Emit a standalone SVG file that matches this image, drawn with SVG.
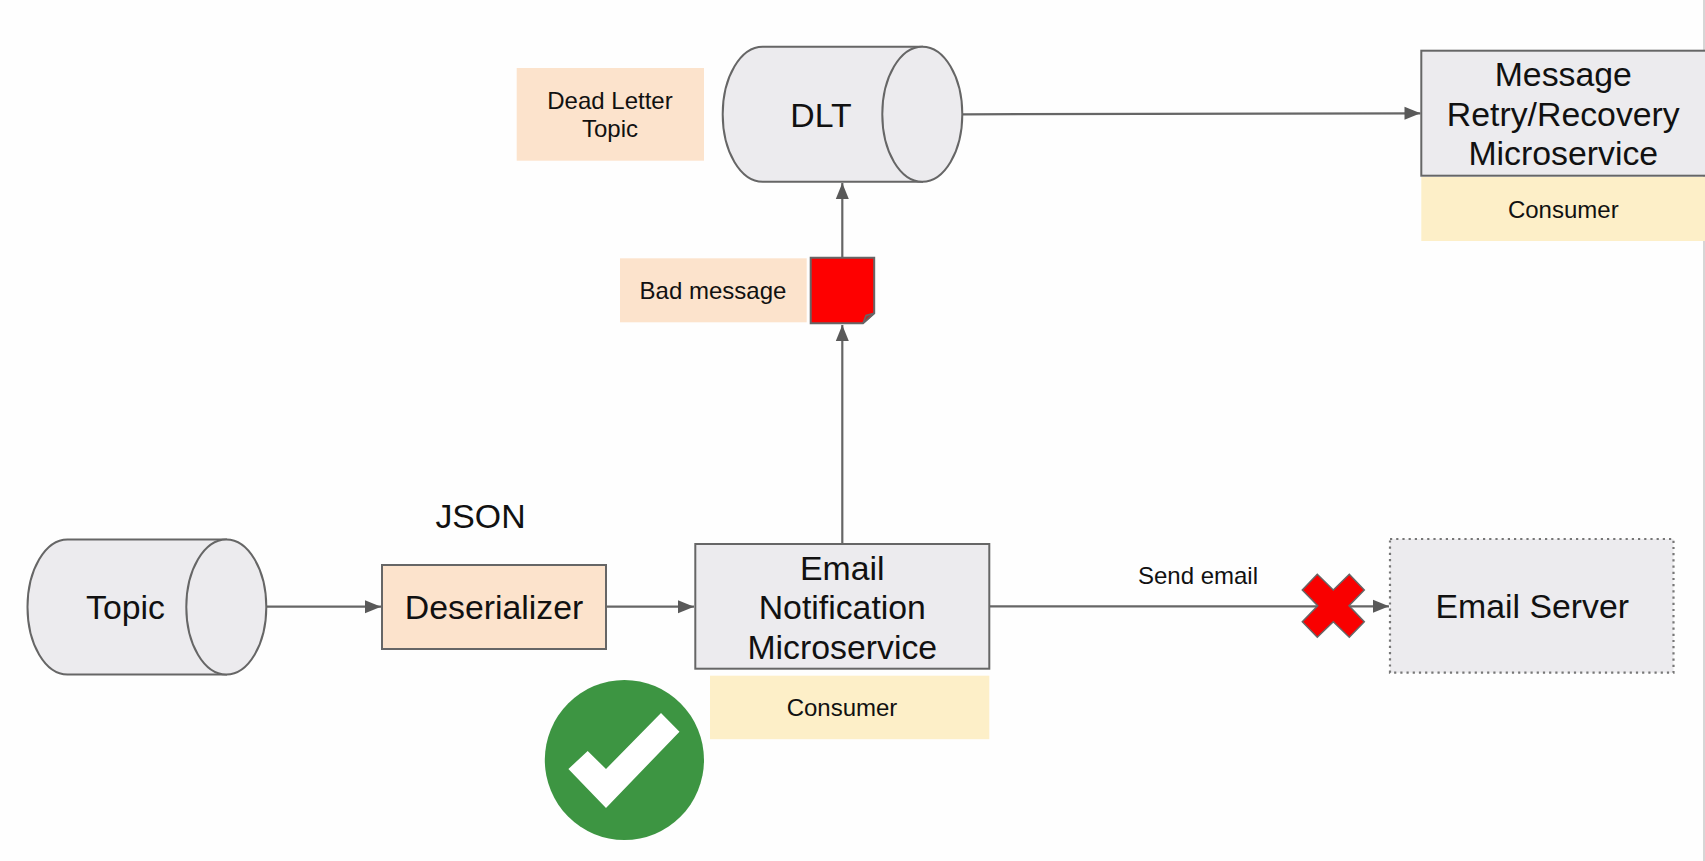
<svg xmlns="http://www.w3.org/2000/svg" width="1705" height="861" viewBox="0 0 1705 861">
  <style>
    text { font-family: "Liberation Sans", Arial, sans-serif; fill: #111; text-anchor: middle; }
    .lg { font-size: 33.8px; }
    .sm { font-size: 24px; }
    .shape { fill: #ecebee; stroke: #666; stroke-width: 2; }
    .conn { fill: none; stroke: #666; stroke-width: 2.2; marker-end: url(#arrow); }
    .peach { fill: #fce3cc; }
    .yellow { fill: #fdefc8; }
  </style>
  <defs>
    <marker id="arrow" markerUnits="userSpaceOnUse" markerWidth="17" markerHeight="14" refX="16" refY="7" orient="auto">
      <path d="M0 0.5 L16 7 L0 13.5 Z" fill="#595959"/>
    </marker>
  </defs>
  <rect width="1705" height="861" fill="#fefefe"/>
  <path d="M1704 0V861" stroke="#c9c9c9" stroke-width="1.5" fill="none"/>

  <g id="connectors">
    <path class="conn" d="M266 606.7H381"/>
    <path class="conn" d="M606 606.7H694"/>
    <path class="conn" d="M842.3 544V325"/>
    <path class="conn" d="M842.3 257V183"/>
    <path class="conn" d="M963 114.3L1420.5 113.3"/>
    <path class="conn" d="M989.5 606.3H1389"/>
  </g>

  <g id="topic">
    <path class="shape" d="M67.5 539.5H226V674.5H67.5A40 67.5 0 0 1 67.5 539.5Z"/>
    <ellipse class="shape" cx="226.3" cy="607" rx="40" ry="67.5"/>
    <text class="lg" x="125.5" y="618.5">Topic</text>
  </g>

  <g id="json-label">
    <text class="lg" x="480.5" y="527.5">JSON</text>
  </g>

  <g id="deserializer">
    <rect x="382" y="565" width="224" height="84" fill="#fce3cc" stroke="#666" stroke-width="2"/>
    <text class="lg" x="494" y="618.5">Deserializer</text>
  </g>

  <g id="email-notification">
    <rect class="shape" x="695.3" y="544" width="294" height="124.7"/>
    <text class="lg" x="842.3" y="579.5">Email</text>
    <text class="lg" x="842.3" y="619">Notification</text>
    <text class="lg" x="842.3" y="658.5">Microservice</text>
  </g>

  <g id="consumer-1">
    <rect class="yellow" x="710" y="675.7" width="279.3" height="63.5"/>
    <text class="sm" x="842" y="716">Consumer</text>
  </g>

  <g id="check">
    <ellipse cx="624.4" cy="760" rx="79.6" ry="80" fill="#3d9542"/>
    <polygon points="568.4,769 587.7,751 606,769 661,713 679.5,731.7 606,808" fill="#fff"/>
  </g>

  <g id="send-email-label">
    <text class="sm" x="1198" y="584">Send email</text>
  </g>

  <g id="cross">
    <polygon points="1317.3,574.3 1302.3,590 1317.7,605.7 1302.3,621.7 1317.3,637.3 1333.3,621.7 1349.3,637.3 1364.3,621.7 1349,605.7 1364.3,590 1349.3,574.3 1333.3,590" fill="#f90000" stroke="#666" stroke-width="1.5"/>
  </g>

  <g id="email-server">
    <rect x="1390" y="539" width="283.5" height="133.7" fill="#ecebee" stroke="#777" stroke-width="2.2" stroke-dasharray="2.2 4"/>
    <text class="lg" x="1532.3" y="617.5">Email Server</text>
  </g>

  <g id="dead-letter-label">
    <rect class="peach" x="516.7" y="68" width="187.3" height="92.7"/>
    <text class="sm" x="610" y="108.5">Dead Letter</text>
    <text class="sm" x="610" y="137">Topic</text>
  </g>

  <g id="dlt">
    <path class="shape" d="M762.7 46.7H922V181.7H762.7A40 67.5 0 0 1 762.7 46.7Z"/>
    <ellipse class="shape" cx="922.3" cy="114.2" rx="40" ry="67.5"/>
    <text class="lg" x="821" y="126.5">DLT</text>
  </g>

  <g id="bad-message-label">
    <rect class="peach" x="620" y="258.3" width="186.7" height="64"/>
    <text class="sm" x="713" y="299">Bad message</text>
  </g>

  <g id="bad-message">
    <path d="M810.7 257.7H874.2V313.3L863 323.3H810.7Z" fill="#fe0000" stroke="#666" stroke-width="2"/>
    <path d="M874.2 313.3L866 315.5L863 323.3Z" fill="#a33" stroke="#666" stroke-width="1.5"/>
  </g>

  <g id="retry-service">
    <rect class="shape" x="1421.3" y="50.7" width="290" height="125"/>
    <text class="lg" x="1563.3" y="86">Message</text>
    <text class="lg" x="1563.3" y="125.5">Retry/Recovery</text>
    <text class="lg" x="1563.3" y="165">Microservice</text>
  </g>

  <g id="consumer-2">
    <rect class="yellow" x="1421.3" y="177" width="283.7" height="64"/>
    <text class="sm" x="1563.3" y="218">Consumer</text>
  </g>
</svg>
